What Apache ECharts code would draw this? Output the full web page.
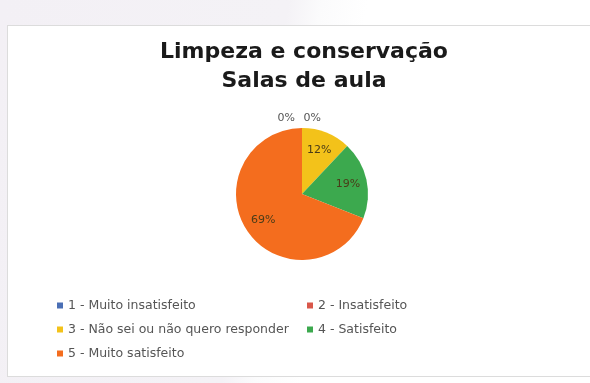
<!DOCTYPE html>
<html><head><meta charset="utf-8">
<script src="https://cdn.jsdelivr.net/npm/echarts@6/dist/echarts.min.js"></script>
<style>
html,body{margin:0;padding:0;width:590px;height:383px;overflow:hidden;background:linear-gradient(100deg,#f3f0f5 0%,#f4f2f6 44%,#fbfbfc 49%,#ffffff 56%,#ffffff 100%);}
#panel{position:absolute;left:7px;top:25px;width:590px;height:352px;background:#fff;border:1px solid #dcdcdc;box-sizing:border-box;}
#chart{position:absolute;left:0;top:0;width:590px;height:383px;}
</style></head>
<body>
<div id="panel"></div>
<div id="chart"></div>
<script>
var titleLines = ['Limpeza e conservação', 'Salas de aula'];
var categories = ['1 - Muito insatisfeito', '2 - Insatisfeito', '3 - Não sei ou não quero responder', '4 - Satisfeito', '5 - Muito satisfeito'];
var percents = [0, 0, 12, 19, 69];
var colors = ['#4a6fb5', '#d9574a', '#f3c21a', '#3ca94e', '#f46d1e'];
var legendLeft = [categories[0], categories[2], categories[4]];
var legendRight = [categories[1], categories[3]];

var font = 'DejaVu Sans, Liberation Sans, sans-serif';
var chart = echarts.init(document.getElementById('chart'));

var zeroOffsets = [[-2, -6], [24, -6]];
var mainData = categories.map(function (c, i) {
  var zero = percents[i] === 0;
  return {
    name: c, value: percents[i],
    itemStyle: { color: colors[i] },
    label: zero ? { show: true, position: 'outside', offset: zeroOffsets[i] } : { show: false },
    labelLine: { show: false }
  };
});
var labelData = categories.map(function (c, i) {
  return { name: c, value: percents[i], label: { show: percents[i] !== 0 } };
});

chart.setOption({
  animation: false,
  color: colors,
  title: {
    text: titleLines.join('\n'),
    left: 299, top: 33, textAlign: 'center',
    textStyle: { fontFamily: font, fontWeight: 'bold', fontSize: 22, lineHeight: 29, color: '#1a1a1a' }
  },
  legend: [{
    data: legendLeft, orient: 'vertical', left: 52, top: 294, itemGap: 11,
    icon: 'rect', itemWidth: 6, itemHeight: 6,
    textStyle: { fontFamily: font, fontSize: 12.5, color: '#555' }
  }, {
    data: legendRight, orient: 'vertical', left: 302, top: 294, itemGap: 11,
    icon: 'rect', itemWidth: 6, itemHeight: 6,
    textStyle: { fontFamily: font, fontSize: 12.5, color: '#555' }
  }],
  series: [{
    type: 'pie', center: [302, 194], radius: 66, startAngle: 90, clockwise: true,
    avoidLabelOverlap: false, silent: true,
    label: { formatter: '{c}%', fontFamily: font, fontSize: 11, color: '#555' },
    labelLine: { show: false, length: 4, length2: 0 },
    data: mainData
  }, {
    type: 'pie', center: [302, 194], radius: [0, 88], startAngle: 90, silent: true,
    avoidLabelOverlap: false,
    itemStyle: { color: 'rgba(0,0,0,0)' },
    label: { position: 'inside', formatter: '{c}%', fontFamily: font, fontSize: 11, color: '#4a3c18' },
    labelLine: { show: false },
    data: labelData
  }]
});
</script>
</body></html>
